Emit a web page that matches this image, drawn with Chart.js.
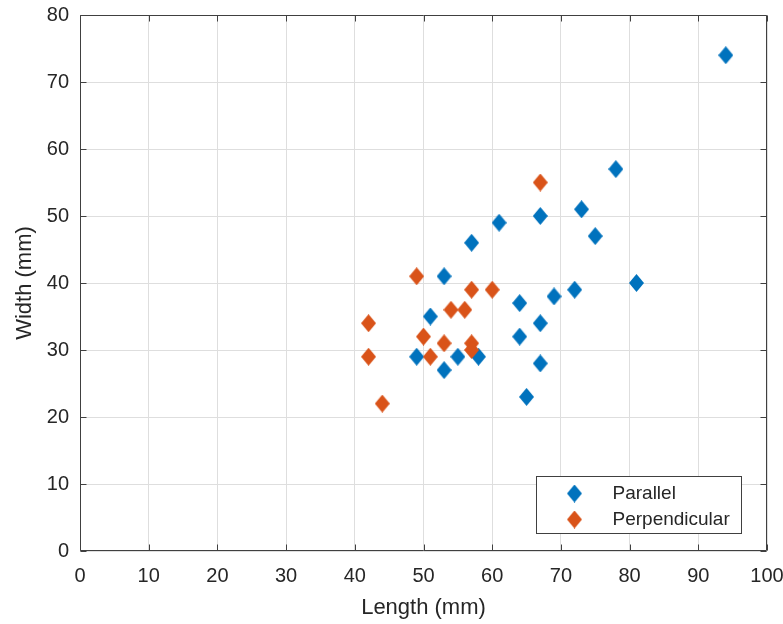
<!DOCTYPE html>
<html>
<head>
<meta charset="utf-8">
<script src="https://cdn.jsdelivr.net/npm/chart.js@4.4.1/dist/chart.umd.min.js"></script>
<style>
  html, body { margin: 0; padding: 0; background: #ffffff; }
  #wrap { position: relative; width: 783px; height: 624px; }
</style>
</head>
<body>
<div id="wrap"><canvas id="c" width="783" height="624"></canvas></div>
<script>
// ---- Data ----
const seriesNames = ['Parallel', 'Perpendicular'];
const parallelLength = [94, 78, 73, 67, 61, 75, 57, 53, 81, 72, 69, 64, 51, 67, 64, 49, 55, 58, 53, 67, 65];
const parallelWidth  = [74, 57, 51, 50, 49, 47, 46, 41, 40, 39, 38, 37, 35, 34, 32, 29, 29, 29, 27, 28, 23];
const perpLength = [67, 49, 57, 60, 54, 56, 42, 50, 53, 57, 57, 42, 51, 44];
const perpWidth  = [55, 41, 39, 39, 36, 36, 34, 32, 31, 31, 30, 29, 29, 22];
const xTickValues = [0, 10, 20, 30, 40, 50, 60, 70, 80, 90, 100];
const yTickValues = [0, 10, 20, 30, 40, 50, 60, 70, 80];
const xTitle = 'Length (mm)';
const yTitle = 'Width (mm)';

// ---- Styles ----
const BLUE = '#0072BD';
const ORANGE = '#D95319';
const TEXT = '#262626';
const AXIS = '#404040';
const GRID = '#dedede';
const FONT = '"Liberation Sans", Arial, Helvetica, sans-serif';

function diamond(color) {
  const w = 15, h = 18;
  const cv = document.createElement('canvas');
  cv.width = w; cv.height = h;
  const g = cv.getContext('2d');
  g.fillStyle = color;
  g.beginPath();
  g.moveTo(w / 2, 0);
  g.lineTo(w, h / 2);
  g.lineTo(w / 2, h);
  g.lineTo(0, h / 2);
  g.closePath();
  g.fill();
  return cv;
}
const blueDiamond = diamond(BLUE);
const orangeDiamond = diamond(ORANGE);

function toPoints(xs, ys) { return xs.map((x, i) => ({ x: x, y: ys[i] })); }

const frameAndTicks = {
  id: 'frameAndTicks',
  afterDatasetsDraw(chart) {
    const { ctx, chartArea: a, scales } = chart;
    ctx.save();
    ctx.strokeStyle = AXIS;
    ctx.lineWidth = 1;
    const L = Math.round(a.left) + 0.5, R = Math.round(a.right) - 0.5;
    const T = Math.round(a.top) + 0.5, B = Math.round(a.bottom) - 0.5;
    ctx.beginPath();
    ctx.rect(L, T, R - L, B - T);
    const tl = 6;
    xTickValues.forEach(v => {
      const px = Math.round(scales.x.getPixelForValue(v)) + 0.5;
      ctx.moveTo(px, B); ctx.lineTo(px, B - tl);
      ctx.moveTo(px, T); ctx.lineTo(px, T + tl);
    });
    yTickValues.forEach(v => {
      const py = Math.round(scales.y.getPixelForValue(v)) + 0.5;
      ctx.moveTo(L, py); ctx.lineTo(L + tl, py);
      ctx.moveTo(R, py); ctx.lineTo(R - tl, py);
    });
    ctx.stroke();
    ctx.restore();
  }
};

const boxLegend = {
  id: 'boxLegend',
  afterDraw(chart) {
    const { ctx, chartArea: a } = chart;
    const bw = 205, bh = 57;
    const bx = Math.round(a.right - 26 - bw) + 0.5;
    const by = Math.round(a.bottom - 18 - bh) + 0.5;
    ctx.save();
    ctx.fillStyle = '#ffffff';
    ctx.fillRect(bx, by, bw, bh);
    ctx.strokeStyle = AXIS;
    ctx.lineWidth = 1;
    ctx.strokeRect(bx, by, bw, bh);
    ctx.font = '19px ' + FONT;
    ctx.fillStyle = TEXT;
    ctx.textBaseline = 'middle';
    ctx.textAlign = 'left';
    chart.data.datasets.forEach((ds, i) => {
      const cy = by + 17 + i * 26;
      const img = ds.pointStyle;
      ctx.drawImage(img, bx + 38 - img.width / 2, cy - img.height / 2);
      ctx.fillText(ds.label, bx + 76, cy);
    });
    ctx.restore();
  }
};

new Chart(document.getElementById('c'), {
  type: 'scatter',
  data: {
    datasets: [
      { label: seriesNames[0], data: toPoints(parallelLength, parallelWidth),
        pointStyle: blueDiamond, backgroundColor: BLUE, borderColor: BLUE, order: 1 },
      { label: seriesNames[1], data: toPoints(perpLength, perpWidth),
        pointStyle: orangeDiamond, backgroundColor: ORANGE, borderColor: ORANGE, order: 0 }
    ]
  },
  options: {
    responsive: false,
    animation: false,
    devicePixelRatio: 1,
    layout: { padding: { top: 15, right: 16, left: 0, bottom: 0 } },
    plugins: {
      legend: { display: false },
      tooltip: { enabled: false }
    },
    scales: {
      x: {
        type: 'linear', min: 0, max: 100,
        afterFit(s) { s.height = 73; s.paddingLeft = 0; s.paddingRight = 0; },
        afterBuildTicks(s) { s.ticks = xTickValues.map(v => ({ value: v })); },
        grid: { color: GRID, drawTicks: false, lineWidth: 1 },
        border: { display: false },
        ticks: { color: TEXT, font: { family: FONT, size: 20 }, padding: 13, maxRotation: 0, autoSkip: false },
        title: { display: true, text: xTitle, color: TEXT, font: { family: FONT, size: 22 }, padding: { top: 0, bottom: 3 } }
      },
      y: {
        type: 'linear', min: 0, max: 80,
        afterFit(s) { s.width = 80; s.paddingTop = 0; s.paddingBottom = 0; },
        afterBuildTicks(s) { s.ticks = yTickValues.map(v => ({ value: v })); },
        grid: { color: GRID, drawTicks: false, lineWidth: 1 },
        border: { display: false },
        ticks: { color: TEXT, font: { family: FONT, size: 20 }, padding: 11, autoSkip: false },
        title: { display: true, text: yTitle, color: TEXT, font: { family: FONT, size: 22 }, padding: { top: 12, bottom: 0 } }
      }
    }
  },
  plugins: [frameAndTicks, boxLegend]
});
</script>
</body>
</html>
